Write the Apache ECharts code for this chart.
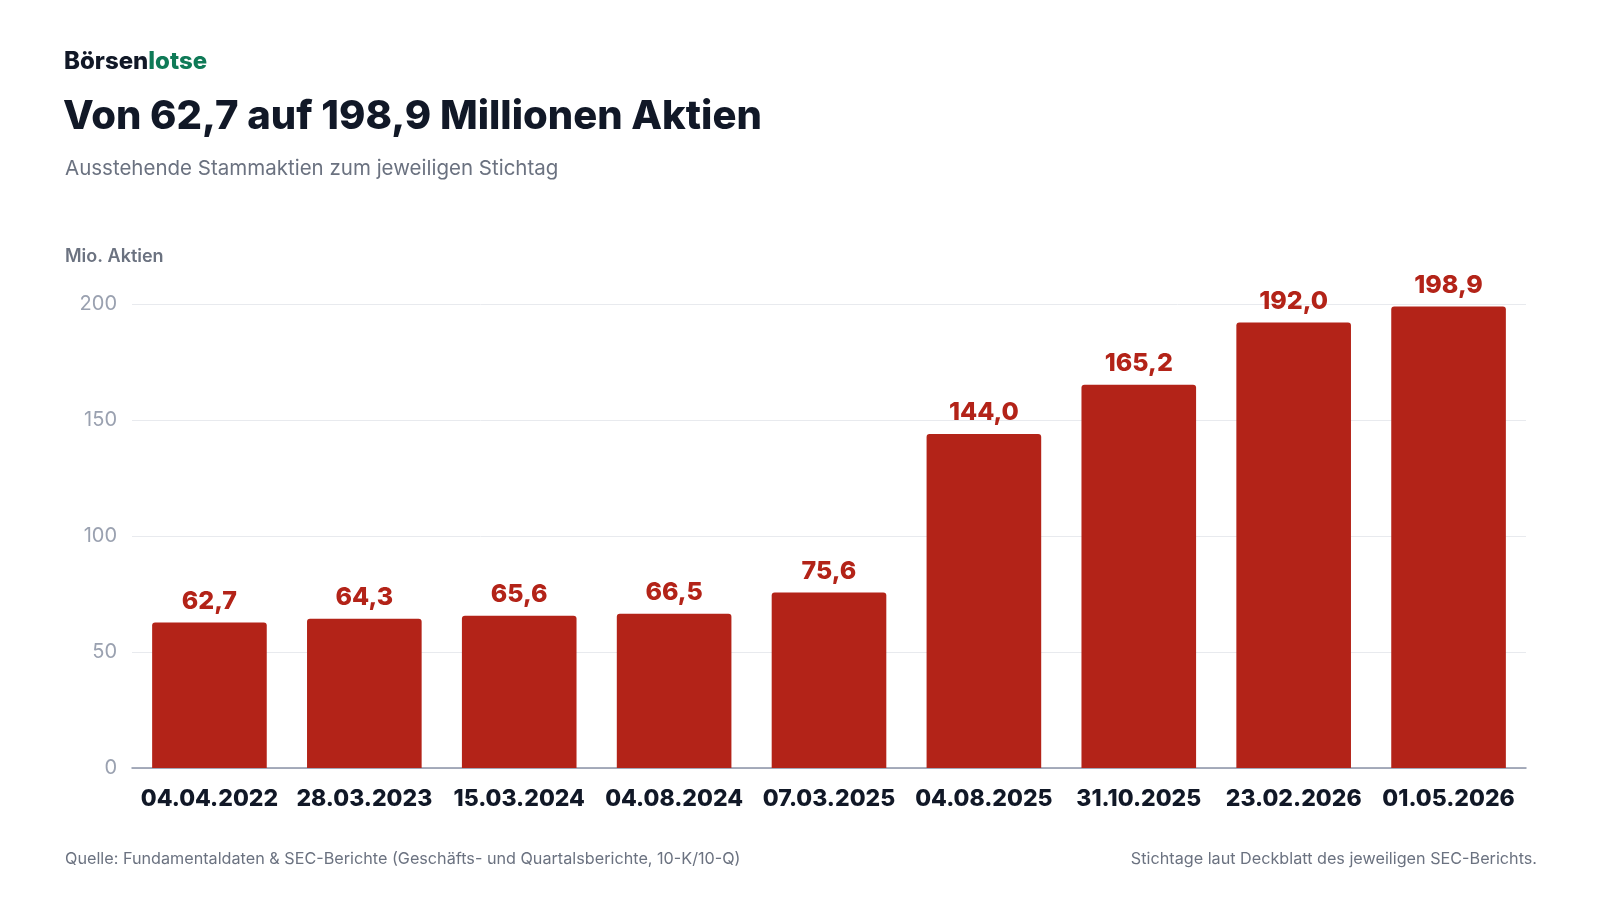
<!DOCTYPE html>
<html><head><meta charset="utf-8">
<script src="https://cdn.jsdelivr.net/npm/echarts@6/dist/echarts.min.js"></script>
<style>html,body{margin:0;padding:0;background:#fff}#chart-panel{width:1600px;height:900px}</style>
</head><body>
<div id="chart-panel"></div>
<script>
var categories = ['04.04.2022','28.03.2023','15.03.2024','04.08.2024','07.03.2025','04.08.2025','31.10.2025','23.02.2026','01.05.2026'];
var shares = [62.7, 64.3, 65.6, 66.5, 75.6, 144.0, 165.2, 192.0, 198.9];
var yTicks = [0, 50, 100, 150, 200];

var font = 'Inter, "Noto Sans", sans-serif';
var option = {
    backgroundColor: '#fff',
    textStyle: {fontFamily: font},
    graphic: [
        {type: 'text', left: 64, top: 50, style: {
            text: '{a|Börsen}{b|lotse}',
            rich: {
                a: {fontFamily: font, fontSize: 24, fontWeight: 800, fill: '#111827'},
                b: {fontFamily: font, fontSize: 24, fontWeight: 800, fill: '#0f7a57'}
            }}},
        {type: 'text', left: 63, top: 97, style: {text: 'Von 62,7 auf 198,9 Millionen Aktien',
            fontFamily: font, fontSize: 40, fontWeight: 800, fill: '#111827', letterSpacing: -0.6}},
        {type: 'text', left: 65, top: 158, style: {text: 'Ausstehende Stammaktien zum jeweiligen Stichtag',
            fontFamily: font, fontSize: 20.5, fill: '#6b7280'}},
        {type: 'text', left: 65, top: 248, style: {text: 'Mio. Aktien',
            fontFamily: font, fontSize: 18, fontWeight: 600, fill: '#6b7280'}},
        {type: 'text', left: 65, top: 851, style: {text: 'Quelle: Fundamentaldaten & SEC-Berichte (Geschäfts- und Quartalsberichte, 10-K/10-Q)',
            fontFamily: font, fontSize: 16.2, fill: '#6b7280'}},
        {type: 'text', right: 63, top: 851, style: {text: 'Stichtage laut Deckblatt des jeweiligen SEC-Berichts.',
            fontFamily: font, fontSize: 16.2, fill: '#6b7280', textAlign: 'right'}}
    ],
    grid: {left: 132, right: 74, top: 304, bottom: 132},
    xAxis: {
        type: 'category',
        data: categories,
        axisLine: {lineStyle: {color: '#8b93a7', width: 1.5}},
        axisTick: {show: false},
        axisLabel: {interval: 0, color: '#111827', fontSize: 23, fontWeight: 800, margin: 20, fontFamily: font}
    },
    yAxis: {
        type: 'value',
        min: yTicks[0], max: yTicks[yTicks.length - 1], interval: 50,
        axisLine: {show: false}, axisTick: {show: false},
        splitLine: {lineStyle: {color: '#e8eaee'}},
        axisLabel: {color: '#9aa1b0', fontSize: 20, margin: 15, fontFamily: font}
    },
    series: [{
        type: 'bar',
        data: shares,
        barWidth: '74%',
        itemStyle: {color: '#b32318', borderRadius: [3, 3, 0, 0]},
        label: {
            show: true, position: 'top', distance: 9,
            color: '#b32318', fontSize: 25, fontWeight: 800, fontFamily: font,
            formatter: function (p) { return p.value.toFixed(1).replace('.', ','); }
        }
    }]
};
var myChart = echarts.init(document.getElementById('chart-panel'));
myChart.setOption(option);
</script>
</body></html>
